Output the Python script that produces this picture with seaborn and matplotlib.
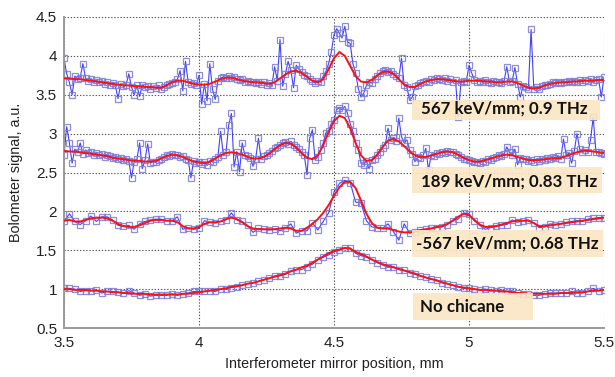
import numpy as np
import pandas as pd
import matplotlib
matplotlib.use("Agg")
import matplotlib.pyplot as plt
from matplotlib.patches import Rectangle
import seaborn as sns

# ---------------- data ----------------
# dense scans (0.01 mm step) and sparse scans (0.02 mm step)
x_dense = np.round(np.linspace(3.5, 5.5, 201), 3)
x_sparse = np.round(np.linspace(3.5, 5.5, 101), 3)

s567_data = [
    3.97, 3.77, 3.66, 3.50, 3.74, 3.70, 3.72, 3.90, 3.71, 3.68,
    3.70, 3.67, 3.69, 3.66, 3.68, 3.64, 3.66, 3.63, 3.65, 3.62,
    3.45, 3.64, 3.61, 3.63, 3.77, 3.60, 3.50, 3.62, 3.48, 3.63,
    3.60, 3.61, 3.58, 3.61, 3.59, 3.62, 3.57, 3.60, 3.63, 3.64,
    3.65, 3.67, 3.70, 3.81, 3.55, 3.93, 3.66, 3.64, 3.65, 3.62,
    3.75, 3.38, 3.64, 3.42, 3.90, 3.57, 3.44, 3.68, 3.71, 3.73,
    3.72, 3.74, 3.71, 3.73, 3.70, 3.69, 3.70, 3.67, 3.68, 3.66,
    3.67, 3.65, 3.66, 3.64, 3.66, 3.63, 3.65, 3.62, 3.86, 3.68,
    4.21, 3.61, 3.77, 3.93, 3.82, 3.59, 3.88, 3.83, 3.79, 3.76,
    3.74, 3.70, 3.68, 3.65, 3.68, 3.66, 3.74, 3.80, 3.90, 4.05,
    4.27, 4.35, 4.29, 4.23, 4.38, 4.18, 4.16, 3.90, 3.78, 3.58,
    3.47, 3.52, 3.62, 3.66, 3.65, 3.70, 3.74, 3.78, 3.80, 3.82,
    3.79, 3.81, 3.77, 3.74, 3.71, 3.97, 3.62, 3.60, 3.43, 3.47,
    3.61, 3.62, 3.65, 3.66, 3.68, 3.67, 3.70, 3.69, 3.71, 3.70,
    3.69, 3.71, 3.68, 3.70, 3.67, 3.69, 3.21, 3.66, 3.68, 3.67,
    3.88, 3.78, 3.69, 3.67, 3.68, 3.66, 3.69, 3.67, 3.65, 3.68,
    3.66, 3.67, 3.65, 3.68, 3.86, 3.66, 3.68, 3.85, 3.64, 3.47,
    3.61, 3.60, 3.58, 4.34, 3.57, 3.60, 3.58, 3.61, 3.63, 3.62,
    3.64, 3.66, 3.65, 3.67, 3.65, 3.67, 3.66, 3.68, 3.66, 3.68,
    3.67, 3.69, 3.67, 3.69, 3.68, 3.70, 3.67, 3.69, 3.70, 3.47,
    3.73,
]
s567_fit = [
    3.71, 3.71, 3.70, 3.70, 3.69, 3.68, 3.67, 3.66, 3.65, 3.64,
    3.63, 3.62, 3.62, 3.61, 3.61, 3.60, 3.60, 3.59, 3.59, 3.62,
    3.66, 3.68, 3.68, 3.66, 3.64, 3.63, 3.63, 3.64, 3.67, 3.70,
    3.72, 3.72, 3.70, 3.68, 3.67, 3.66, 3.66, 3.65, 3.64, 3.66,
    3.71, 3.76, 3.80, 3.81, 3.78, 3.73, 3.68, 3.66, 3.70, 3.83,
    3.97, 4.05, 4.00, 3.87, 3.74, 3.67, 3.66, 3.69, 3.75, 3.79,
    3.80, 3.77, 3.70, 3.63, 3.60, 3.60, 3.64, 3.67, 3.69, 3.70,
    3.70, 3.69, 3.68, 3.67, 3.67, 3.68, 3.68, 3.68, 3.67, 3.67,
    3.66, 3.66, 3.67, 3.67, 3.65, 3.62, 3.59, 3.58, 3.59, 3.62,
    3.64, 3.65, 3.66, 3.66, 3.67, 3.67, 3.68, 3.68, 3.68, 3.69,
    3.69,
]

s189_data = [
    2.72, 3.09, 2.88, 2.62, 2.80, 2.76, 2.88, 2.74, 2.79, 2.75,
    2.76, 2.73, 2.75, 2.72, 2.74, 2.70, 2.73, 2.71, 2.69, 2.70,
    2.67, 2.69, 2.66, 2.68, 2.65, 2.43, 2.64, 2.67, 2.88, 2.55,
    2.66, 2.87, 2.62, 2.64, 2.63, 2.66, 2.68, 2.70, 2.72, 2.71,
    2.74, 2.72, 2.73, 2.70, 2.71, 2.68, 2.66, 2.43, 2.65, 2.62,
    2.64, 2.61, 2.63, 2.60, 2.65, 2.64, 2.68, 2.70, 3.03, 2.73,
    2.76, 3.11, 3.26, 2.57, 2.77, 2.51, 2.88, 2.72, 2.71, 2.69,
    2.58, 2.68, 2.94, 2.67, 2.71, 2.72, 2.75, 2.78, 2.81, 2.83,
    2.86, 2.88, 2.89, 2.87, 2.90, 2.86, 2.83, 2.80, 2.76, 2.72,
    2.47, 2.94, 3.05, 2.66, 2.70, 2.79, 2.88, 3.01, 3.03, 3.13,
    3.18, 3.31, 3.33, 3.31, 3.35, 3.26, 3.13, 3.03, 2.88, 2.79,
    2.62, 2.60, 2.65, 2.55, 2.66, 2.68, 2.72, 2.76, 2.82, 2.86,
    3.07, 2.92, 2.95, 2.90, 3.20, 2.96, 2.88, 2.92, 2.79, 2.74,
    2.64, 2.70, 2.69, 2.72, 2.81, 2.53, 2.73, 2.71, 2.75, 2.74,
    2.77, 2.75, 2.78, 2.76, 2.77, 2.74, 2.72, 2.70, 2.68, 2.67,
    2.66, 2.65, 2.63, 2.64, 2.62, 2.65, 2.64, 2.67, 2.66, 2.69,
    2.70, 2.72, 2.71, 2.74, 2.83, 2.76, 2.73, 2.80, 2.60, 2.69,
    2.67, 2.68, 2.65, 2.66, 2.64, 2.67, 2.65, 2.68, 2.66, 2.69,
    2.67, 2.70, 2.69, 2.71, 2.68, 2.93, 2.72, 2.75, 2.62, 2.78,
    3.00, 2.80, 2.77, 2.79, 2.76, 2.92, 3.21, 2.77, 2.76, 2.75,
    2.74,
]
s189_fit = [
    2.78, 2.77, 2.77, 2.76, 2.75, 2.74, 2.73, 2.72, 2.71, 2.69,
    2.68, 2.67, 2.66, 2.65, 2.65, 2.64, 2.64, 2.65, 2.68, 2.71,
    2.73, 2.72, 2.70, 2.67, 2.64, 2.63, 2.62, 2.64, 2.68, 2.72,
    2.75, 2.76, 2.75, 2.73, 2.70, 2.68, 2.68, 2.70, 2.74, 2.80,
    2.85, 2.88, 2.87, 2.82, 2.75, 2.69, 2.67, 2.72, 2.85, 3.02,
    3.16, 3.23, 3.20, 3.07, 2.88, 2.72, 2.65, 2.66, 2.73, 2.83,
    2.91, 2.93, 2.90, 2.84, 2.77, 2.72, 2.70, 2.70, 2.72, 2.74,
    2.76, 2.77, 2.76, 2.73, 2.69, 2.66, 2.64, 2.64, 2.66, 2.68,
    2.70, 2.72, 2.73, 2.72, 2.70, 2.68, 2.66, 2.66, 2.66, 2.67,
    2.68, 2.68, 2.69, 2.71, 2.74, 2.76, 2.78, 2.78, 2.77, 2.76,
    2.75,
]

sm567_data = [
    1.87, 1.97, 1.87, 1.83, 1.88, 1.94, 1.87, 1.93, 1.93, 1.89,
    1.82, 1.81, 1.82, 1.77, 1.84, 1.87, 1.89, 1.90, 1.90, 1.88,
    1.88, 1.93, 1.77, 1.79, 1.77, 1.78, 1.88, 1.86, 1.85, 1.87,
    1.89, 1.98, 1.89, 1.87, 1.82, 1.73, 1.78, 1.77, 1.76, 1.77,
    1.75, 1.78, 1.84, 1.72, 1.75, 1.75, 1.85, 1.76, 1.87, 1.98,
    2.25, 2.36, 2.40, 2.37, 2.12, 2.11, 1.88, 1.80, 1.79, 1.78,
    1.84, 1.74, 1.63, 1.84, 1.72, 1.74, 1.76, 1.77, 1.78, 1.79,
    1.80, 1.83, 1.88, 1.90, 1.98, 1.97, 1.88, 1.82, 1.77, 1.79,
    1.81, 1.82, 1.83, 1.89, 1.86, 1.88, 1.89, 1.85, 1.79, 1.80,
    1.84, 1.83, 1.84, 1.86, 1.87, 1.88, 1.87, 1.90, 1.91, 1.92,
    1.92,
]
sm567_fit = [
    1.88, 1.89, 1.87, 1.87, 1.89, 1.91, 1.92, 1.92, 1.91, 1.88,
    1.84, 1.81, 1.80, 1.80, 1.82, 1.85, 1.88, 1.89, 1.89, 1.88,
    1.88, 1.86, 1.81, 1.78, 1.78, 1.80, 1.84, 1.86, 1.86, 1.87,
    1.90, 1.92, 1.90, 1.86, 1.81, 1.78, 1.77, 1.77, 1.77, 1.77,
    1.78, 1.79, 1.78, 1.75, 1.75, 1.79, 1.84, 1.90, 1.98, 2.08,
    2.20, 2.31, 2.38, 2.38, 2.30, 2.14, 1.97, 1.85, 1.79, 1.78,
    1.78, 1.76, 1.74, 1.73, 1.73, 1.74, 1.76, 1.77, 1.78, 1.80,
    1.81, 1.84, 1.88, 1.93, 1.97, 1.95, 1.89, 1.83, 1.80, 1.80,
    1.81, 1.83, 1.85, 1.87, 1.88, 1.88, 1.88, 1.85, 1.81, 1.81,
    1.82, 1.83, 1.84, 1.85, 1.86, 1.87, 1.88, 1.89, 1.90, 1.91,
    1.92,
]

nochicane_data = [
    1.01, 1.01, 1.00, 0.97, 0.98, 0.98, 0.99, 0.95, 0.97, 0.97,
    0.96, 0.95, 0.98, 0.95, 0.92, 0.94, 0.91, 0.92, 0.92, 0.92,
    0.94, 0.92, 0.94, 0.95, 0.97, 0.97, 0.97, 0.98, 0.97, 1.00,
    1.00, 1.02, 1.03, 1.05, 1.07, 1.08, 1.10, 1.12, 1.14, 1.17,
    1.17, 1.19, 1.23, 1.25, 1.25, 1.29, 1.32, 1.38, 1.41, 1.44,
    1.48, 1.50, 1.53, 1.53, 1.46, 1.43, 1.41, 1.38, 1.34, 1.31,
    1.28, 1.29, 1.25, 1.24, 1.21, 1.19, 1.17, 1.15, 1.13, 1.12,
    1.08, 1.07, 1.05, 1.03, 1.01, 1.01, 1.00, 0.99, 1.00, 0.99,
    0.98, 0.99, 0.97, 0.98, 0.95, 0.94, 0.94, 0.92, 0.92, 0.94,
    0.95, 0.95, 0.95, 0.95, 0.97, 0.95, 0.95, 0.97, 1.01, 0.98,
    0.99,
]
nochicane_fit = [
    1.00, 1.00, 0.99, 0.99, 0.99, 0.98, 0.98, 0.97, 0.97, 0.96,
    0.96, 0.95, 0.95, 0.94, 0.94, 0.94, 0.93, 0.93, 0.93, 0.93,
    0.93, 0.93, 0.94, 0.94, 0.95, 0.96, 0.97, 0.98, 0.99, 1.00,
    1.01, 1.03, 1.04, 1.05, 1.07, 1.08, 1.10, 1.12, 1.14, 1.16,
    1.18, 1.20, 1.23, 1.25, 1.28, 1.30, 1.34, 1.38, 1.42, 1.46,
    1.49, 1.51, 1.53, 1.52, 1.48, 1.45, 1.42, 1.38, 1.35, 1.32,
    1.30, 1.28, 1.26, 1.24, 1.22, 1.20, 1.17, 1.15, 1.13, 1.11,
    1.09, 1.07, 1.05, 1.03, 1.02, 1.01, 1.00, 0.99, 0.99, 0.98,
    0.98, 0.97, 0.97, 0.96, 0.95, 0.95, 0.94, 0.94, 0.94, 0.94,
    0.94, 0.94, 0.95, 0.95, 0.95, 0.96, 0.96, 0.97, 0.98, 0.98,
    0.99,
]

labels = ["567 keV/mm; 0.9 THz", "189 keV/mm; 0.83 THz",
          "-567 keV/mm; 0.68 THz", "No chicane"]

x_ticks = [3.5, 4, 4.5, 5, 5.5]
x_ticklabels = ["3.5", "4", "4.5", "5", "5.5"]
y_ticks = [0.5, 1, 1.5, 2, 2.5, 3, 3.5, 4, 4.5]
y_ticklabels = ["0.5", "1", "1.5", "2", "2.5", "3", "3.5", "4", "4.5"]

# ---------------- plot ----------------
sns.set_style("white")
plt.rcParams["font.family"] = ["Liberation Sans", "DejaVu Sans"]

fig = plt.figure(figsize=(6.15, 3.77), dpi=100)
ax = fig.add_axes([64 / 615, 1 - 328 / 377, 540 / 615, 311 / 377])

series = [
    (x_dense, s567_data, x_sparse, s567_fit),
    (x_dense, s189_data, x_sparse, s189_fit),
    (x_sparse, sm567_data, x_sparse, sm567_fit),
    (x_sparse, nochicane_data, x_sparse, nochicane_fit),
]

for xd, yd, xf, yf in series:
    df = pd.DataFrame({"x": xd, "y": yd})
    sns.lineplot(data=df, x="x", y="y", ax=ax, estimator=None, sort=False,
                 color="#2020ff", linewidth=0.8, marker="s", markersize=4.6,
                 markerfacecolor="none", markeredgecolor="#7a7ad8",
                 markeredgewidth=0.9, alpha=0.85, zorder=2)
for xd, yd, xf, yf in series:
    dff = pd.DataFrame({"x": xf, "y": yf})
    sns.lineplot(data=dff, x="x", y="y", ax=ax, estimator=None, sort=False,
                 color="#ff1010", linewidth=1.4, zorder=3)

# annotation boxes (x0, x1, y0, y1) and text anchors (x, y)
boxes = [(4.788, 5.487, 3.175, 3.432), (4.788, 5.494, 2.232, 2.575),
         (4.788, 5.498, 1.417, 1.760), (4.793, 5.237, 0.603, 0.950)]
text_pos = [(4.822, 3.325), (4.822, 2.385), (4.804, 1.582), (4.817, 0.765)]
for lab, (x0, x1, y0, y1), (tx, ty) in zip(labels, boxes, text_pos):
    ax.add_patch(Rectangle((x0, y0), x1 - x0, y1 - y0, facecolor="#fbe6c2",
                           edgecolor="none", alpha=0.9, zorder=4, clip_on=False))
    ax.text(tx, ty, lab, fontsize=12.2, fontweight="bold", family=["Lato", "DejaVu Sans"],
            color="#111111", va="center", ha="left", zorder=5)

ax.set_xlim(3.5, 5.5)
ax.set_ylim(0.5, 4.5)
ax.set_xticks(x_ticks)
ax.set_xticklabels(x_ticklabels)
ax.set_yticks(y_ticks)
ax.set_yticklabels(y_ticklabels)
ax.tick_params(axis="both", length=0, labelsize=11, colors="#222222")
ax.tick_params(axis="x", pad=6)
ax.tick_params(axis="y", pad=5)
ax.grid(True, linestyle=(0, (1.2, 1.6)), color="#555555", linewidth=0.8)
ax.set_axisbelow(True)
for side in ["top", "right"]:
    ax.spines[side].set_visible(False)
for side in ["left", "bottom"]:
    ax.spines[side].set_color("#9a9a9a")
    ax.spines[side].set_linewidth(1.4)

ax.set_xlabel("Interferometer mirror position, mm", fontsize=10.4, color="#222222", labelpad=5)
ax.set_ylabel("Bolometer signal, a.u.", fontsize=10.4, color="#222222", labelpad=9)

fig.savefig("out.png", dpi=100)
